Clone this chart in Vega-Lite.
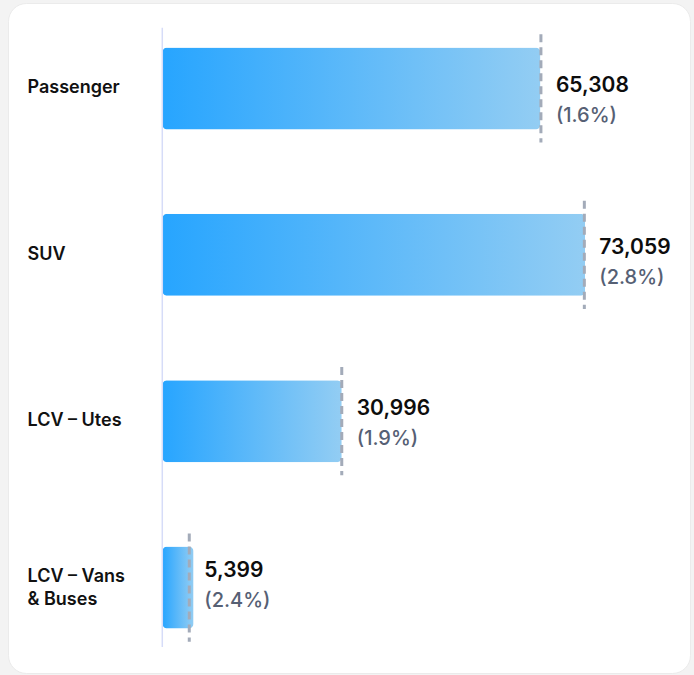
{
  "$schema": "https://vega.github.io/schema/vega-lite/v6.json",
  "autosize": "none",
  "padding": {"left": 8, "top": 3, "right": 4, "bottom": 2},
  "width": 682,
  "height": 670,
  "background": "#f3f3f3",
  "config": {
    "view": {"fill": "#ffffff", "cornerRadius": 18, "stroke": "#ebebeb", "strokeWidth": 1},
    "font": "Inter"
  },
  "data": {
    "values": [
      {"category": "Passenger", "value": 65308, "marker": 65400, "pct": 0.016},
      {"category": "SUV", "value": 73059, "marker": 72900, "pct": 0.028},
      {"category": "LCV – Utes", "value": 30996, "marker": 31000, "pct": 0.019},
      {"category": "LCV – Vans & Buses", "value": 5399, "marker": 4660, "pct": 0.024}
    ]
  },
  "transform": [
    {"calculate": "'(' + format(datum.pct, '.1%') + ')'", "as": "pctLabel"}
  ],
  "resolve": {"scale": {"y": "independent"}, "axis": {"y": "independent"}},
  "layer": [
    {
      "encoding": {
        "y": {
          "field": "category",
          "type": "nominal",
          "sort": null,
          "scale": {"paddingInner": 0.507, "paddingOuter": 0.267},
          "axis": {
            "title": null,
            "domain": false,
            "ticks": false,
            "tickSize": 0,
            "offset": -19,
            "labelPadding": 0,
            "labelAlign": "left",
            "labelBaseline": "middle",
            "labelFont": "Inter",
            "labelFontSize": 18,
            "labelFontWeight": 600,
            "labelColor": "#111111",
            "labelLineHeight": 23,
            "labelOffset": {"condition": {"test": "datum.value == 'LCV – Vans & Buses'", "value": -11}, "value": 0},
            "labelExpr": "datum.value == 'LCV – Vans & Buses' ? ['LCV – Vans', '& Buses'] : datum.value"
          }
        },
        "x": {
          "type": "quantitative",
          "scale": {"domain": [-26650, 91150], "nice": false, "zero": false},
          "axis": null
        }
      },
      "layer": [
        {
          "mark": {
            "type": "bar",
            "cornerRadius": 5,
            "color": {
              "gradient": "linear",
              "x1": 0, "y1": 0, "x2": 1, "y2": 0,
              "stops": [
                {"offset": 0, "color": "#27a5ff"},
                {"offset": 1, "color": "#93cdf3"}
              ]
            }
          },
          "encoding": {
            "x": {"field": "value", "type": "quantitative"}
          }
        },
        {
          "mark": {"type": "rule", "color": "#a3abb9", "strokeWidth": 3, "strokeDash": [8, 5]},
          "encoding": {
            "x": {"field": "marker", "type": "quantitative"},
            "y": {"field": "category", "type": "nominal", "sort": null, "bandPosition": -0.16},
            "y2": {"field": "category", "bandPosition": 1.16}
          }
        },
        {
          "data": {"values": [{"from": "Passenger", "to": "LCV – Vans & Buses", "zero": 0}]},
          "transform": [],
          "mark": {"type": "rule", "color": "#d6dcf8", "strokeWidth": 1.5},
          "encoding": {
            "x": {"field": "zero", "type": "quantitative"},
            "y": {"field": "from", "type": "nominal", "sort": null, "bandPosition": -0.24},
            "y2": {"field": "to", "bandPosition": 1.226}
          }
        }
      ]
    },
    {
      "encoding": {
        "y": {
          "field": "category",
          "type": "nominal",
          "sort": null,
          "scale": {"type": "point", "padding": 0.5717},
          "axis": null
        },
        "x": {"field": "marker", "type": "quantitative"}
      },
      "layer": [
        {
          "mark": {"type": "text", "align": "left", "baseline": "alphabetic", "dx": 15, "dy": -3.5, "fontSize": 21, "fontWeight": 600, "color": "#0d0d0d"},
          "encoding": {
            "text": {"field": "value", "type": "quantitative", "format": ","}
          }
        },
        {
          "mark": {"type": "text", "align": "left", "baseline": "alphabetic", "dx": 15, "dy": 26.5, "fontSize": 20, "fontWeight": 500, "color": "#566074"},
          "encoding": {
            "text": {"field": "pctLabel", "type": "nominal"}
          }
        }
      ]
    }
  ]
}
